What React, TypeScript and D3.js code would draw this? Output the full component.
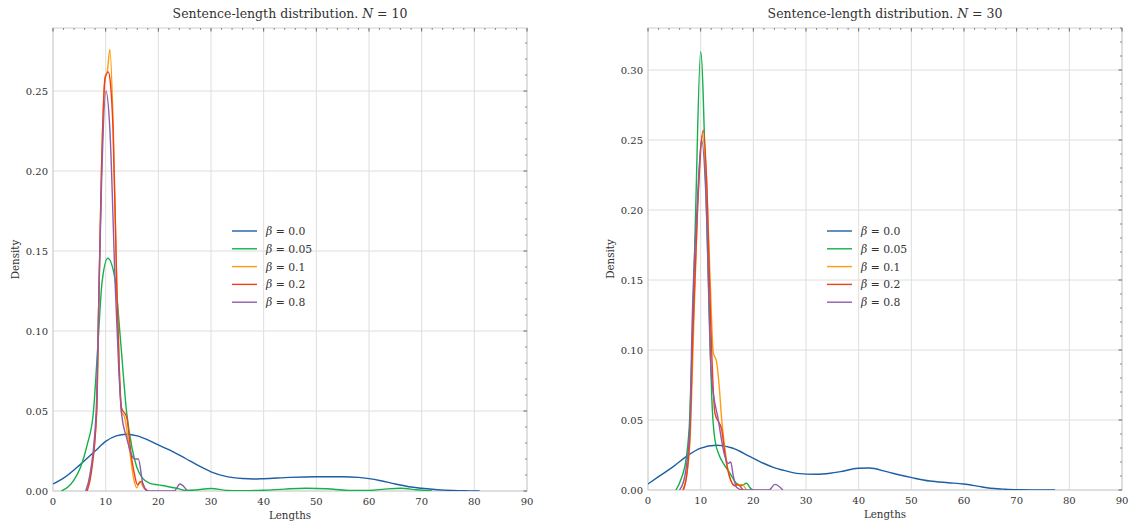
import { useMemo } from 'react';
import { scaleLinear, line, curveMonotoneX, range, format } from 'd3';

const width = 1129;
const height = 522;

const betas = ['0.0', '0.05', '0.1', '0.2', '0.8'];
const colors = ['#1d5fa5', '#14b04a', '#ff9c12', '#ee401a', '#8e5ca8'];
const xTicks = [0, 10, 20, 30, 40, 50, 60, 70, 80, 90];
const yTicksLeft = [0, 0.05, 0.1, 0.15, 0.2, 0.25];
const yTicksRight = [0, 0.05, 0.1, 0.15, 0.2, 0.25, 0.3];

// N = 10 panel
const n10Beta00X = [0, 2, 5, 8, 10, 12, 14, 16, 18, 20, 22, 24, 26, 28, 30, 33, 36, 38, 40, 45, 50, 55, 58, 60, 62, 65, 68, 70, 73, 76, 79, 81];
const n10Beta00Y = [0.0044, 0.008, 0.016, 0.025, 0.031, 0.0345, 0.0355, 0.0345, 0.032, 0.0288, 0.0258, 0.0224, 0.0188, 0.0152, 0.012, 0.009, 0.0078, 0.0075, 0.0077, 0.0085, 0.0089, 0.0089, 0.0085, 0.0077, 0.0066, 0.0044, 0.0025, 0.0017, 0.0008, 0.0003, 0.0001, 0];
const n10Beta005X = [1.6, 3, 4, 5.25, 6.5, 7.65, 8.5, 9.3, 10.4, 11.8, 12.8, 14, 15, 15.9, 17, 18.4, 20, 21.5, 23.5, 25, 27, 30, 33, 36, 40, 44, 48, 52, 56, 60, 63, 66, 69, 72];
const n10Beta005Y = [0, 0.003, 0.007, 0.015, 0.029, 0.0486, 0.09, 0.13, 0.1455, 0.132, 0.095, 0.0486, 0.027, 0.015, 0.008, 0.0048, 0.0038, 0.003, 0.0017, 0.0004, 0.0006, 0.0016, 0.0004, 0.0002, 0.0005, 0.0012, 0.0017, 0.0014, 0.0004, 0.0004, 0.0012, 0.0017, 0.0008, 0];
const n10Beta01X = [6.4, 7.2, 8.3, 8.7, 9.2, 9.9, 10.3, 10.8, 11.45, 12.1, 12.6, 13.0, 13.5, 14.6, 15.3, 15.9, 16.5, 17.2, 18];
const n10Beta01Y = [0, 0.012, 0.05, 0.12, 0.2, 0.259, 0.262, 0.276, 0.226, 0.13, 0.075, 0.049, 0.047, 0.024, 0.008, 0.002, 0.006, 0.002, 0];
const n10Beta02X = [6.5, 7.3, 8.3, 8.7, 9.2, 9.9, 10.5, 10.9, 11.4, 12.1, 12.6, 13.0, 14.0, 14.9, 15.5, 16.0, 16.8, 17.4, 18];
const n10Beta02Y = [0, 0.012, 0.05, 0.12, 0.2, 0.258, 0.262, 0.255, 0.226, 0.13, 0.075, 0.052, 0.046, 0.021, 0.01, 0.004, 0.006, 0.002, 0];
const n10Beta08X = [6.2, 7.0, 8.2, 8.7, 9.2, 10.05, 10.8, 11.8, 12.5, 13, 14, 15, 15.6, 16.2, 17.1, 18, 20, 23, 24.1, 25.5];
const n10Beta08Y = [0, 0.01, 0.05, 0.12, 0.19, 0.25, 0.226, 0.13, 0.075, 0.049, 0.033, 0.022, 0.02, 0.02, 0.004, 0, 0, 0, 0.0044, 0];

// N = 30 panel
const n30Beta00X = [0, 2, 4.8, 7.3, 9.9, 13, 14, 16, 19.4, 21.5, 23.8, 26, 28.2, 32, 34.6, 36.5, 39.9, 42, 45.3, 48, 50.1, 53.5, 57, 59.9, 62.5, 65, 67.5, 70, 73, 77.3];
const n30Beta00Y = [0.0043, 0.0095, 0.0167, 0.024, 0.0298, 0.032, 0.0317, 0.03, 0.0238, 0.0198, 0.0162, 0.0138, 0.0119, 0.0112, 0.012, 0.0131, 0.0155, 0.0157, 0.0131, 0.0105, 0.0088, 0.0064, 0.0052, 0.0043, 0.0028, 0.0012, 0.0006, 0.0002, 0.0001, 0];
const n30Beta005X = [5.3, 6.3, 7.3, 7.9, 8.4, 9.05, 10.0, 11.1, 11.8, 12.1, 12.7, 13.5, 14.3, 15.4, 16.8, 17.7, 18.7, 19.5, 20];
const n30Beta005Y = [0, 0.008, 0.024, 0.05, 0.105, 0.2, 0.313, 0.2, 0.105, 0.067, 0.036, 0.025, 0.019, 0.013, 0.0048, 0.003, 0.0048, 0.001, 0];
const n30Beta01X = [6.6, 7.4, 8.1, 8.6, 9.4, 10.3, 11.0, 11.8, 12.4, 13.0, 13.5, 14.0, 14.6, 15.2, 16.5, 17.8, 18.7];
const n30Beta01Y = [0, 0.012, 0.045, 0.107, 0.2, 0.253, 0.23, 0.15, 0.098, 0.092, 0.075, 0.05, 0.03, 0.014, 0.003, 0.004, 0];
const n30Beta02X = [6.7, 7.4, 8, 8.5, 9.4, 10.5, 11.2, 11.9, 12.7, 14, 14.6, 15.6, 16.5, 17, 18];
const n30Beta02Y = [0, 0.012, 0.043, 0.11, 0.2, 0.257, 0.215, 0.12, 0.055, 0.043, 0.026, 0.008, 0.003, 0.004, 0];
const n30Beta08X = [6, 7, 8, 8.3, 9.3, 10.2, 11, 12, 13.35, 14.6, 15.2, 15.7, 16.2, 16.8, 18, 23, 24.1, 25.6];
const n30Beta08Y = [0, 0.01, 0.05, 0.107, 0.2, 0.25, 0.21, 0.083, 0.05, 0.024, 0.019, 0.02, 0.01, 0.002, 0, 0, 0.004, 0];

const zip = (xs, ys) => xs.map((x, i) => [x, ys[i]]);

const font = '"DejaVu Serif", "Liberation Serif", serif';
const gridColor = '#dedede';

function Panel({ id, n, left, top, w, h, yMax, yTicks, series, legendX, legendY }) {
  const x = scaleLinear().domain([0, 90]).range([left, left + w]);
  const y = scaleLinear().domain([0, yMax]).range([top + h, top]);
  const lineGen = line().x((d) => x(d[0])).y((d) => y(d[1])).curve(curveMonotoneX);
  const fmt = format('.2f');
  const minorX = range(0, 91, 2).filter((v) => v % 10 !== 0);
  const minorY = range(0, Math.floor(yMax * 100) + 1).map((v) => v / 100).filter((v) => Math.round(v * 100) % 5 !== 0);

  return (
    <g>
      <defs>
        <clipPath id={`clip-${id}`}>
          <rect x={left} y={top} width={w} height={h} />
        </clipPath>
      </defs>
      {/* grid */}
      {xTicks.map((t) => (
        <line key={'gx' + t} x1={x(t)} x2={x(t)} y1={top} y2={top + h} stroke={gridColor} strokeWidth={1} />
      ))}
      {yTicks.map((t) => (
        <line key={'gy' + t} x1={left} x2={left + w} y1={y(t)} y2={y(t)} stroke={gridColor} strokeWidth={1} />
      ))}
      {/* frame */}
      <rect x={left} y={top} width={w} height={h} fill="none" stroke="#cfcfcf" strokeWidth={1} />
      {/* inward ticks on top and right */}
      {xTicks.map((t) => (
        <line key={'tx' + t} x1={x(t)} x2={x(t)} y1={top} y2={top + 3.5} stroke="#444" strokeWidth={0.8} />
      ))}
      {minorX.map((t) => (
        <line key={'mx' + t} x1={x(t)} x2={x(t)} y1={top} y2={top + 2} stroke="#444" strokeWidth={0.6} />
      ))}
      {yTicks.map((t) => (
        <line key={'ty' + t} x1={left + w} x2={left + w - 3.5} y1={y(t)} y2={y(t)} stroke="#444" strokeWidth={0.8} />
      ))}
      {minorY.map((t) => (
        <line key={'my' + t} x1={left + w} x2={left + w - 2} y1={y(t)} y2={y(t)} stroke="#444" strokeWidth={0.6} />
      ))}
      {/* tick labels */}
      {xTicks.map((t) => (
        <text key={'lx' + t} x={x(t)} y={top + h + 14} textAnchor="middle" fontFamily={font} fontSize={10} fill="#333">
          {t}
        </text>
      ))}
      {yTicks.map((t) => (
        <text key={'ly' + t} x={left - 5} y={y(t) + 3.5} textAnchor="end" fontFamily={font} fontSize={10} fill="#333">
          {fmt(t)}
        </text>
      ))}
      {/* curves */}
      <g clipPath={`url(#clip-${id})`}>
        {series.map((s, i) => (
          <path key={'s' + i} d={lineGen(s)} fill="none" stroke={colors[i]} strokeWidth={1.4} />
        ))}
      </g>
      {/* legend */}
      {betas.map((b, i) => (
        <g key={'lg' + b}>
          <line x1={legendX} x2={legendX + 25} y1={legendY + i * 17.8} y2={legendY + i * 17.8} stroke={colors[i]} strokeWidth={1.4} />
          <text x={legendX + 34} y={legendY + i * 17.8 + 4} fontFamily={font} fontSize={10.8} fill="#333">
            <tspan fontStyle="italic">β</tspan> = {b}
          </text>
        </g>
      ))}
      {/* labels */}
      <text x={left + w / 2} y={top - 10} textAnchor="middle" fontFamily={font} fontSize={12.5} fill="#333">
        Sentence-length distribution. <tspan fontStyle="italic">N</tspan> = {n}
      </text>
      <text x={left + w / 2} y={top + h + 28} textAnchor="middle" fontFamily={font} fontSize={10.3} fill="#333">
        Lengths
      </text>
      <text
        transform={`translate(${left - 34}, ${top + h / 2}) rotate(-90)`}
        textAnchor="middle"
        fontFamily={font}
        fontSize={10.3}
        fill="#333"
      >
        Density
      </text>
    </g>
  );
}

export default function App() {
  const leftSeries = useMemo(
    () => [
      zip(n10Beta00X, n10Beta00Y),
      zip(n10Beta005X, n10Beta005Y),
      zip(n10Beta01X, n10Beta01Y),
      zip(n10Beta02X, n10Beta02Y),
      zip(n10Beta08X, n10Beta08Y),
    ],
    []
  );
  const rightSeries = useMemo(
    () => [
      zip(n30Beta00X, n30Beta00Y),
      zip(n30Beta005X, n30Beta005Y),
      zip(n30Beta01X, n30Beta01Y),
      zip(n30Beta02X, n30Beta02Y),
      zip(n30Beta08X, n30Beta08Y),
    ],
    []
  );

  return (
    <svg
      width={width}
      height={height}
      style={{ position: 'absolute', left: 0, top: 0, background: '#fff' }}
    >
      <Panel id="n10" n={10} left={53} top={28} w={474} h={463} yMax={0.2894} yTicks={yTicksLeft} series={leftSeries} legendX={232} legendY={231} />
      <Panel id="n30" n={30} left={648} top={28} w={474} h={462} yMax={0.33} yTicks={yTicksRight} series={rightSeries} legendX={827} legendY={231} />
    </svg>
  );
}
